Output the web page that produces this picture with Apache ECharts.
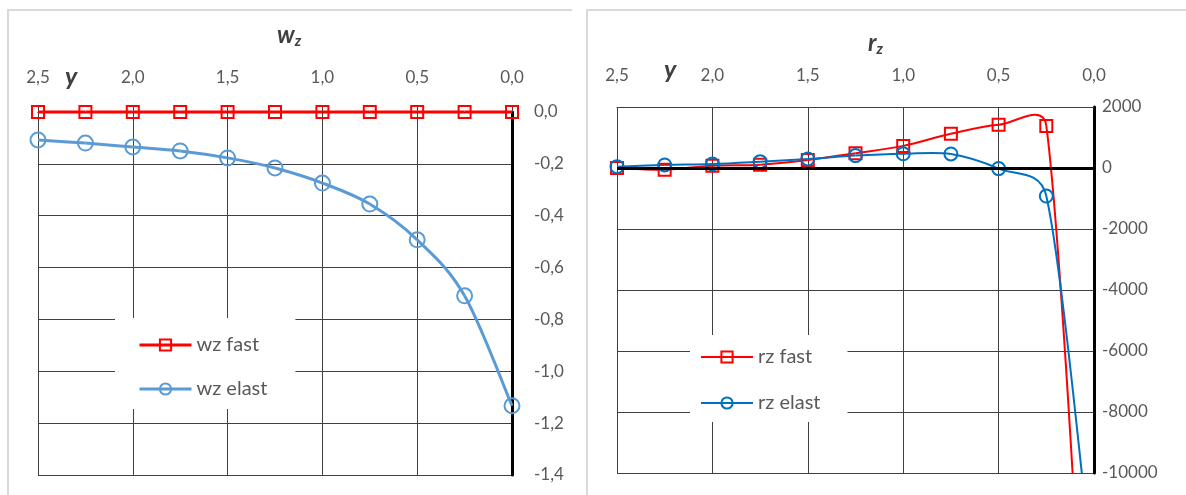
<!DOCTYPE html>
<html>
<head>
<meta charset="utf-8">
<script src="https://cdn.jsdelivr.net/npm/echarts@6/dist/echarts.min.js"></script>
<style>
html,body{margin:0;padding:0;background:#fff;}
#c{width:1186px;height:495px;}
</style>
</head>
<body>
<div id="c"></div>
<script>
// ---- data ----
const yPositions = [2.5, 2.25, 2.0, 1.75, 1.5, 1.25, 1.0, 0.75, 0.5, 0.25, 0.0];
const wzFast  = [0, 0, 0, 0, 0, 0, 0, 0, 0, 0, 0];
const wzElast = [-0.108, -0.12, -0.135, -0.15, -0.177, -0.216, -0.274, -0.355, -0.493, -0.709, -1.133];
const rzFast  = [0, -55, 77, 110, 263, 482, 725, 1120, 1415, 1380, -21900];
const rzElast = [44, 99, 132, 208, 296, 406, 465, 460, -20, -920, -13700];
const seriesNames = ['wz fast', 'wz elast', 'rz fast', 'rz elast'];
const titles = ['w', 'r'];

const pair = (xs, ys) => xs.map((x, i) => [x, ys[i]]);
const fmt1 = v => v.toFixed(1).replace('.', ',').replace(/^-0,0$/, '0,0');
const FONT = 'Lato, "Open Sans", sans-serif';
const GRID = '#404040';
const LABEL = '#595959';
const RED = '#FF0000', LBLUE = '#5B9BD5', DBLUE = '#0070C0';

const chart = echarts.init(document.getElementById('c'), null, {renderer: 'canvas'});

// Excel-like smoothed curve (Bezier, tension 1/6, control arm limited to half the segment)
function curveSeries(name, xs, ys, color, width, axisIdx, clip) {
  return {
    type: 'custom', name: name + ' (curve)', xAxisIndex: axisIdx, yAxisIndex: axisIdx,
    clip: clip, silent: true, z: 2,
    data: xs.slice(0, -1).map((x, i) => [x, ys[i]]),
    renderItem: function (params, api) {
      const n = xs.length;
      const i = params.dataIndex;
      const P = k => { const j = Math.max(0, Math.min(n - 1, k)); return api.coord([xs[j], ys[j]]); };
      const p0 = P(i - 1), p1 = P(i), p2 = P(i + 1), p3 = P(i + 2);
      const d = (a, b) => Math.hypot(a[0] - b[0], a[1] - b[1]);
      const d12 = d(p1, p2), d02 = d(p0, p2), d13 = d(p1, p3);
      const f1 = d02 > 0 ? Math.min(1 / 6, 0.5 * d12 / d02) : 0;
      const f2 = d13 > 0 ? Math.min(1 / 6, 0.5 * d12 / d13) : 0;
      return {
        type: 'bezierCurve',
        shape: {
          x1: p1[0], y1: p1[1], x2: p2[0], y2: p2[1],
          cpx1: p1[0] + f1 * (p2[0] - p0[0]), cpy1: p1[1] + f1 * (p2[1] - p0[1]),
          cpx2: p2[0] - f2 * (p3[0] - p1[0]), cpy2: p2[1] - f2 * (p3[1] - p1[1])
        },
        style: {stroke: color, lineWidth: width, fill: 'none'}
      };
    }
  };
}

function markerSeries(name, xs, ys, color, width, axisIdx, symbol, size) {
  return {
    name: name, type: 'line', xAxisIndex: axisIdx, yAxisIndex: axisIdx,
    data: pair(xs, ys), symbol: symbol, symbolSize: size, showAllSymbol: true,
    itemStyle: {color: 'rgba(255,255,255,0)', borderColor: color, borderWidth: 2},
    lineStyle: {color: color, width: width, opacity: 0}, z: 4, silent: true
  };
}

const xAxisBase = {
  type: 'value', inverse: true, min: 0, max: 2.5, interval: 0.5, position: 'top',
  axisLabel: {formatter: fmt1, color: LABEL, fontSize: 17, fontFamily: FONT},
  splitLine: {show: true, lineStyle: {color: GRID, width: 1}}
};

const legendText = {fontSize: 20, color: LABEL, fontFamily: FONT};

const option = {
  animation: false,
  backgroundColor: '#fff',
  grid: [
    {left: 38, right: 674, top: 112, bottom: 20},
    {left: 617, right: 92, top: 107, bottom: 22}
  ],
  xAxis: [
    Object.assign({}, xAxisBase, {
      gridIndex: 0,
      axisLine: {show: true, onZero: false, lineStyle: {color: '#000', width: 1}},
      axisTick: {show: true, inside: false, length: 7, lineStyle: {color: GRID}},
      axisLabel: Object.assign({}, xAxisBase.axisLabel, {margin: 26})
    }),
    Object.assign({}, xAxisBase, {
      gridIndex: 1,
      axisLine: {show: true, onZero: false, lineStyle: {color: GRID, width: 1}},
      axisTick: {show: false},
      axisLabel: Object.assign({}, xAxisBase.axisLabel, {margin: 23})
    })
  ],
  yAxis: [
    {
      type: 'value', gridIndex: 0, min: -1.4, max: 0, interval: 0.2, position: 'right',
      axisLine: {show: true, onZero: false, lineStyle: {color: '#000', width: 3}},
      axisTick: {show: false},
      axisLabel: {formatter: fmt1, color: LABEL, fontSize: 17, fontFamily: FONT, margin: 22},
      splitLine: {show: true, lineStyle: {color: GRID, width: 1}}
    },
    {
      type: 'value', gridIndex: 1, min: -10000, max: 2000, interval: 2000, position: 'right',
      axisLine: {show: true, onZero: false, lineStyle: {color: '#000', width: 3}},
      axisTick: {show: false},
      axisLabel: {formatter: v => String(v), color: LABEL, fontSize: 17, fontFamily: FONT, margin: 8},
      splitLine: {show: true, lineStyle: {color: GRID, width: 1}}
    }
  ],
  legend: [
    {
      data: [
        {name: seriesNames[0], lineStyle: {color: RED, width: 3, opacity: 1}},
        {name: seriesNames[1], lineStyle: {color: LBLUE, width: 3, opacity: 1}}
      ],
      orient: 'vertical', left: 115, top: 318,
      backgroundColor: '#fff', padding: [17, 28, 10, 23], itemGap: 24,
      itemWidth: 52, itemHeight: 14, textStyle: legendText
    },
    {
      data: [
        {name: seriesNames[2], lineStyle: {color: RED, width: 2, opacity: 1}},
        {name: seriesNames[3], lineStyle: {color: DBLUE, width: 2, opacity: 1}}
      ],
      orient: 'vertical', left: 690, top: 335,
      backgroundColor: '#fff', padding: [12, 27, 9, 10], itemGap: 26,
      itemWidth: 52, itemHeight: 14, textStyle: legendText
    }
  ],
  graphic: [
    {type: 'polyline', shape: {points: [[8, 495], [8, 10], [572, 10]]}, style: {stroke: '#d9d9d9', lineWidth: 2, fill: null}, silent: true},
    {type: 'polyline', shape: {points: [[587, 495], [587, 10], [1186, 10]]}, style: {stroke: '#d9d9d9', lineWidth: 2, fill: null}, silent: true},
    {type: 'text', left: 277, top: 23, style: {
      text: '{a|' + titles[0] + '}{b|z}',
      rich: {a: {fontSize: 24, fontWeight: 'bold', fontStyle: 'italic', fill: '#404040', fontFamily: FONT},
             b: {fontSize: 15, fontWeight: 'bold', fontStyle: 'italic', fill: '#404040', fontFamily: FONT, padding: [12, 0, 0, 0]}}
    }},
    {type: 'text', left: 868, top: 31, style: {
      text: '{a|' + titles[1] + '}{b|z}',
      rich: {a: {fontSize: 24, fontWeight: 'bold', fontStyle: 'italic', fill: '#404040', fontFamily: FONT},
             b: {fontSize: 15, fontWeight: 'bold', fontStyle: 'italic', fill: '#404040', fontFamily: FONT, padding: [12, 0, 0, 0]}}
    }},
    {type: 'text', left: 65, top: 64, style: {text: 'y', fontSize: 25, fontWeight: 'bold', fontStyle: 'italic', fill: '#404040', fontFamily: FONT}},
    {type: 'text', left: 664, top: 57, style: {text: 'y', fontSize: 25, fontWeight: 'bold', fontStyle: 'italic', fill: '#404040', fontFamily: FONT}}
  ],
  series: [
    curveSeries(seriesNames[0], yPositions, wzFast, RED, 3, 0, false),
    curveSeries(seriesNames[1], yPositions, wzElast, LBLUE, 3, 0, false),
    curveSeries(seriesNames[2], yPositions, rzFast, RED, 2, 1, true),
    curveSeries(seriesNames[3], yPositions, rzElast, DBLUE, 2, 1, true),
    markerSeries(seriesNames[0], yPositions, wzFast, RED, 3, 0, 'rect', 12),
    markerSeries(seriesNames[1], yPositions, wzElast, LBLUE, 3, 0, 'circle', 15),
    Object.assign(markerSeries(seriesNames[2], yPositions, rzFast, RED, 2, 1, 'rect', 12), {
      markLine: {silent: true, symbol: 'none', label: {show: false},
        lineStyle: {color: '#000', width: 3, type: 'solid', opacity: 1}, data: [{yAxis: 0}]}
    }),
    markerSeries(seriesNames[3], yPositions, rzElast, DBLUE, 2, 1, 'circle', 13)
  ]
};
chart.setOption(option);
</script>
</body>
</html>
